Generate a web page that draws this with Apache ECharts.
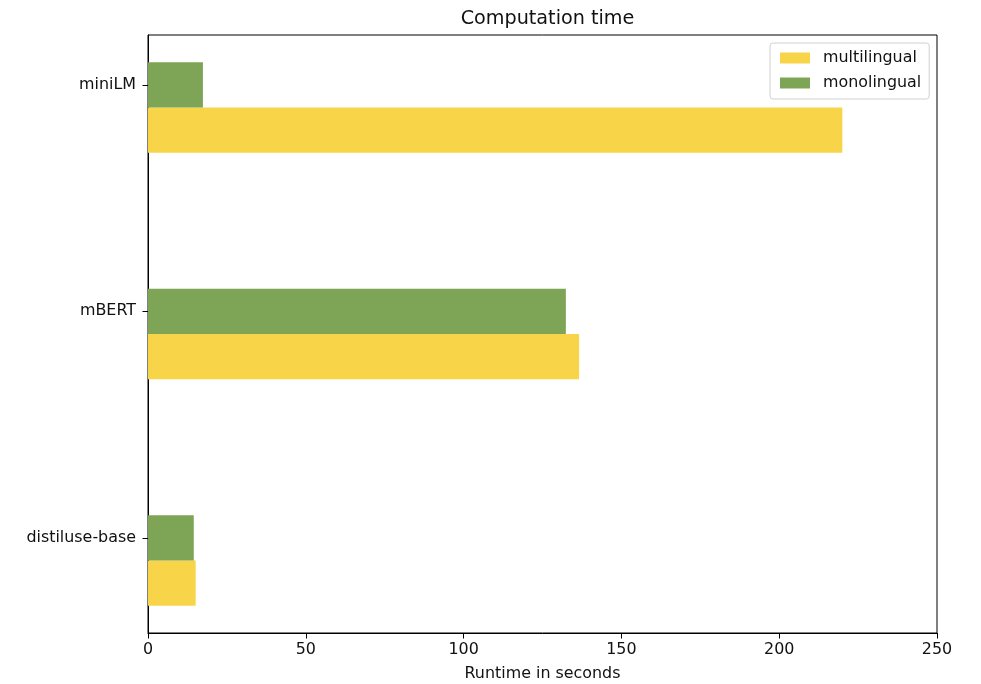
<!DOCTYPE html>
<html>
<head>
<meta charset="utf-8">
<script src="https://cdn.jsdelivr.net/npm/echarts@6/dist/echarts.min.js"></script>
<style>
  html, body { margin: 0; padding: 0; background: #fff; }
  #chart { width: 981px; height: 684px; }
</style>
</head>
<body>
<div id="chart"></div>
<script>
// Models, listed bottom to top along the y axis
const models = ['distiluse-base', 'mBERT', 'miniLM'];
// Runtime in seconds for each model
const multilingual = [15.1, 136.6, 220.0];
const monolingual = [14.5, 132.4, 17.4];
const xTicks = [0, 50, 100, 150, 200, 250];

const BAR = 0.2; // bar thickness in category units
const FONT = 'DejaVu Sans';
const FS = 15.9;

function barRenderer(offset) {
  return function (params, api) {
    const v = api.value(0);
    const c = api.value(1);
    const p0 = api.coord([0, c + offset + BAR / 2]);
    const p1 = api.coord([v, c + offset - BAR / 2]);
    return {
      type: 'rect',
      shape: { x: p0[0], y: p0[1], width: p1[0] - p0[0], height: p1[1] - p0[1] },
      style: api.style()
    };
  };
}

const chart = echarts.init(document.getElementById('chart'));
chart.setOption({
  animation: false,
  title: {
    text: 'Computation time',
    left: 542.5,
    textAlign: 'center',
    top: 5,
    textStyle: { fontFamily: FONT, fontSize: 19.2, fontWeight: 'normal', color: '#111' }
  },
  legend: {
    orient: 'vertical',
    left: 770,
    top: 43,
    padding: [7, 8, 8, 10],
    itemWidth: 30,
    itemHeight: 11,
    itemGap: 9,
    backgroundColor: '#fff',
    borderColor: '#d0d0d0',
    borderWidth: 1,
    borderRadius: 3,
    icon: 'rect',
    textStyle: { fontFamily: FONT, fontSize: FS, lineHeight: 16, color: '#111', padding: [0, 0, 0, 8] },
    data: ['multilingual', 'monolingual']
  },
  grid: {
    left: 148, right: 44, top: 35, bottom: 51,
    outerBoundsMode: 'none',
    containLabel: false,
    show: true, borderColor: '#000', borderWidth: 1, backgroundColor: 'transparent'
  },
  xAxis: {
    type: 'value',
    min: xTicks[0],
    max: xTicks[xTicks.length - 1],
    interval: 50,
    name: 'Runtime in seconds',
    nameLocation: 'middle',
    nameGap: 33,
    nameTextStyle: { fontFamily: FONT, fontSize: FS, color: '#111' },
    splitLine: { show: false },
    axisLine: { show: true, onZero: false, lineStyle: { color: '#000', width: 1 } },
    axisTick: { show: true, length: 5.5, lineStyle: { color: '#000' } },
    axisLabel: { fontFamily: FONT, fontSize: FS, color: '#111', margin: 9 }
  },
  yAxis: {
    type: 'value',
    min: -0.42,
    max: 2.22,
    splitLine: { show: false },
    axisLine: { show: true, onZero: false, lineStyle: { color: '#000', width: 1 } },
    axisTick: { show: true, length: 5.5, customValues: [0, 1, 2], lineStyle: { color: '#000' } },
    axisLabel: {
      customValues: [0, 1, 2],
      fontFamily: FONT, fontSize: FS, color: '#111', margin: 12,
      formatter: function (v) { return models[Math.round(v)]; }
    }
  },
  series: [
    {
      name: 'multilingual',
      type: 'custom',
      itemStyle: { color: '#f8d448' },
      renderItem: barRenderer(-BAR),
      encode: { x: 0, y: 1 },
      data: multilingual.map((v, i) => [v, i])
    },
    {
      name: 'monolingual',
      type: 'custom',
      itemStyle: { color: '#7ea556' },
      renderItem: barRenderer(0),
      encode: { x: 0, y: 1 },
      data: monolingual.map((v, i) => [v, i])
    }
  ]
});
</script>
</body>
</html>
